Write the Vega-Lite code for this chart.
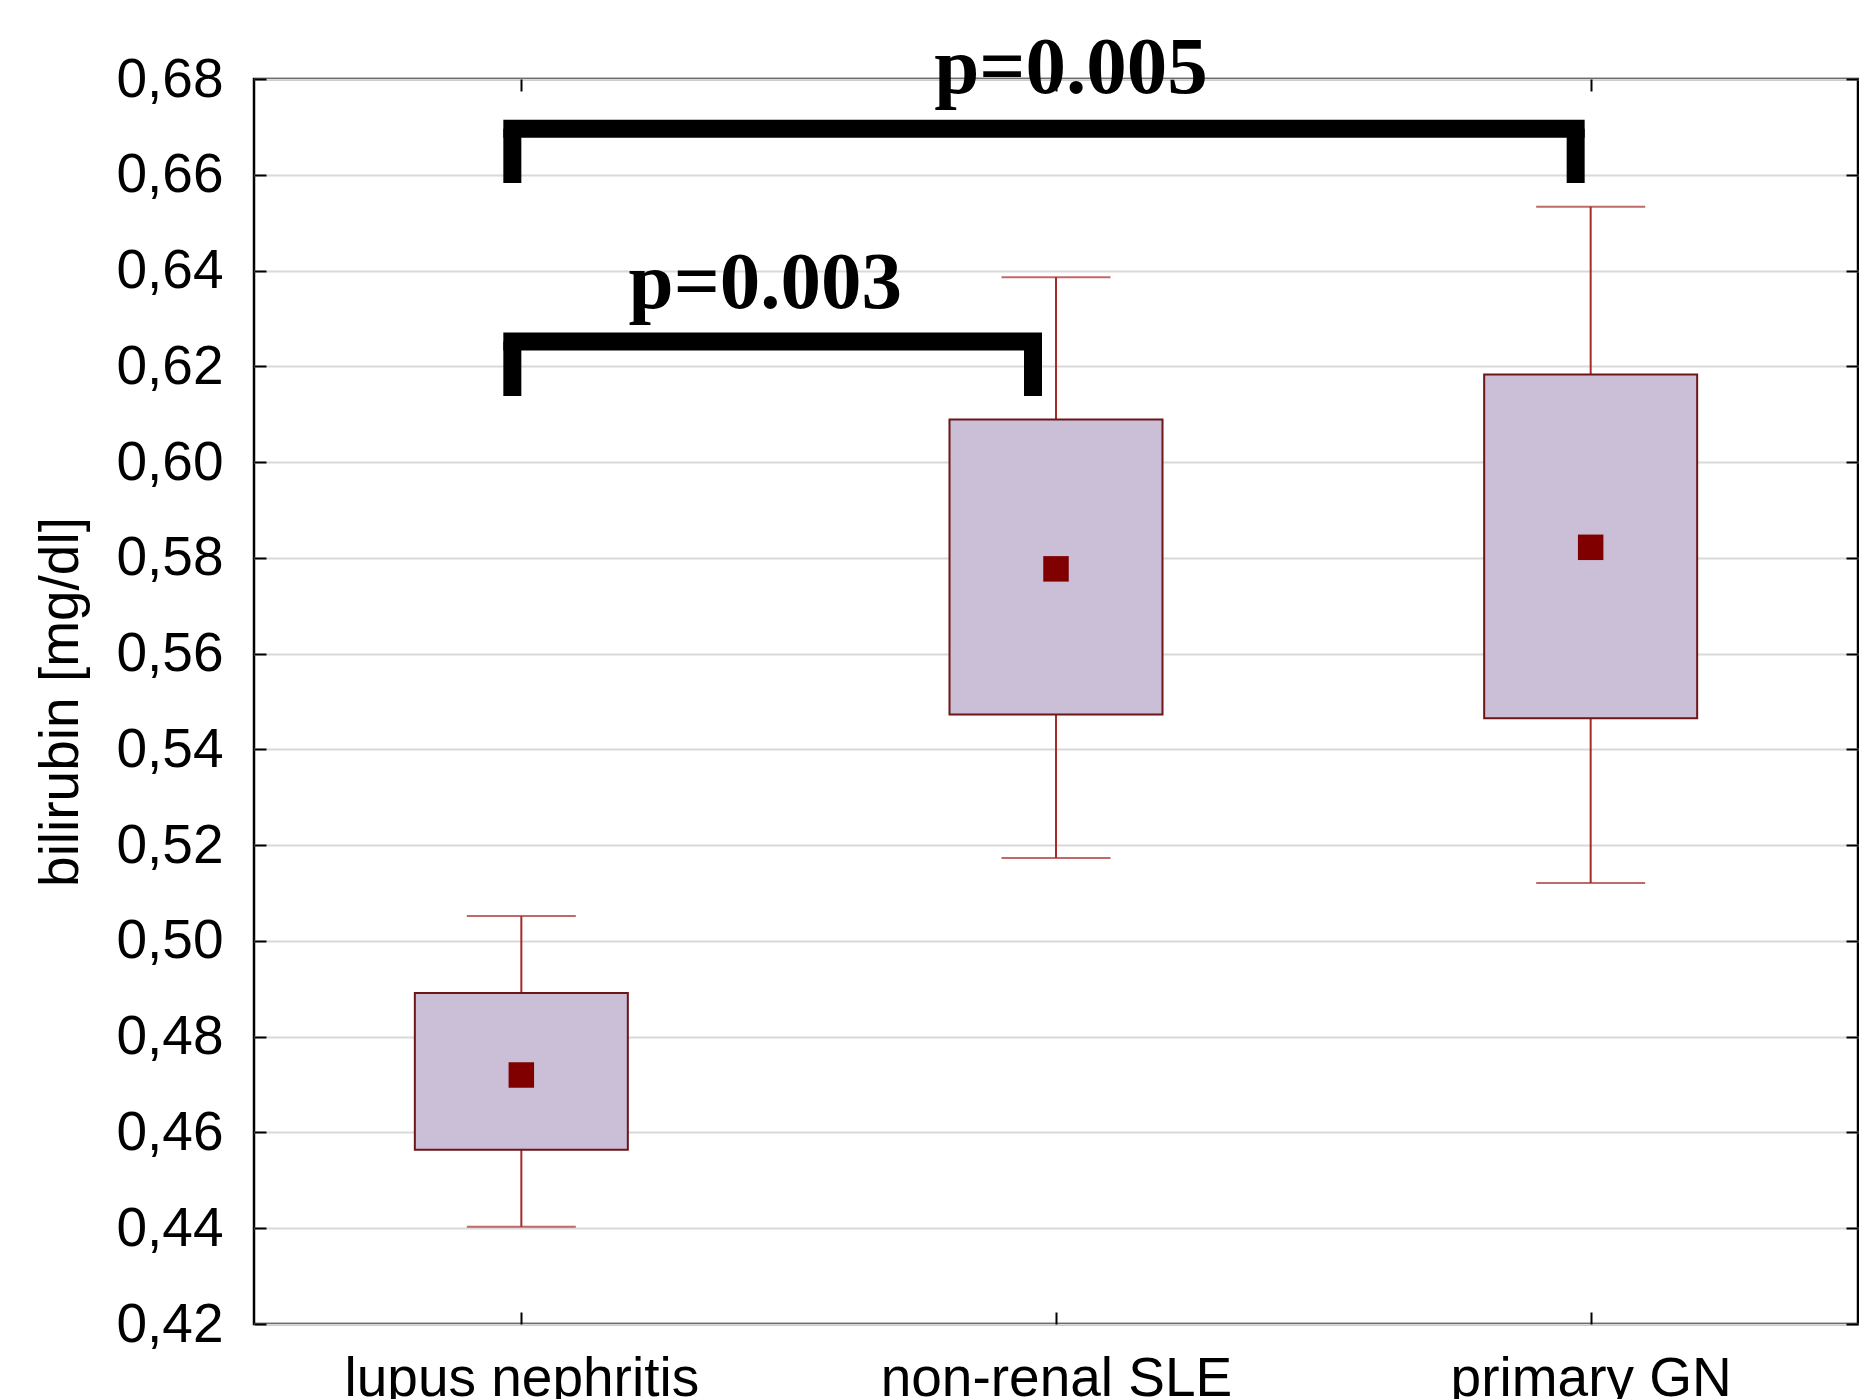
{
  "$schema": "https://vega.github.io/schema/vega-lite/v6.json",
  "width": 1604,
  "height": 1245,
  "autosize": {"type": "none"},
  "padding": {"left": 254, "top": 79, "right": 1, "bottom": 75},
  "background": "white",
  "config": {
    "view": {"stroke": "black", "strokeWidth": 2.5},
    "axis": {"labelFont": "Liberation Sans", "titleFont": "Liberation Sans", "domain": false, "labelColor": "black", "tickColor": "black", "titleColor": "black"}
  },
  "datasets": {
    "boxes": [
      {"group": "lupus nephritis", "wlow": 0.4403, "qlow": 0.4564, "mean": 0.472, "qhigh": 0.4891, "whigh": 0.5052},
      {"group": "non-renal SLE", "wlow": 0.5173, "qlow": 0.5473, "mean": 0.5777, "qhigh": 0.6089, "whigh": 0.6386},
      {"group": "primary GN", "wlow": 0.5121, "qlow": 0.5465, "mean": 0.5822, "qhigh": 0.6183, "whigh": 0.6533}
    ],
    "brackets": [
      {"from": "lupus nephritis", "to": "primary GN", "y": 0.6696, "yEnd": 0.6583, "label": "p=0.005", "ytext": 0.6771},
      {"from": "lupus nephritis", "to": "non-renal SLE", "y": 0.6252, "yEnd": 0.6138, "label": "p=0.003", "ytext": 0.6322}
    ]
  },
  "resolve": {"axis": {"x": "independent", "y": "independent"}},
  "layer": [
    {
      "data": {"name": "boxes"},
      "mark": {"type": "rule", "color": "#A52A2A", "strokeWidth": 2},
      "encoding": {
        "x": {"field": "group", "type": "nominal", "sort": null,
              "scale": {"type": "point", "padding": 0.5},
              "axis": {"orient": "bottom", "title": null, "labelFontSize": 55, "labelAngle": 0, "labelLimit": 0, "labelPadding": 28, "ticks": false, "grid": false}},
        "y": {"field": "wlow", "type": "quantitative",
              "scale": {"domain": [0.42, 0.68], "nice": false, "zero": false},
              "axis": {"orient": "left", "title": "bilirubin [mg/dl]", "titleFontSize": 55, "titleFontWeight": "normal", "titlePadding": 26,
                       "values": [0.42, 0.44, 0.46, 0.48, 0.5, 0.52, 0.54, 0.56, 0.58, 0.6, 0.62, 0.64, 0.66, 0.68],
                       "labelExpr": "replace(format(datum.value, '.2f'), '.', ',')",
                       "labelFontSize": 55, "labelPadding": 31, "ticks": false,
                       "grid": true, "gridColor": "#d9d9d9", "gridWidth": 2}},
        "y2": {"field": "whigh"}
      }
    },
    {
      "data": {"name": "boxes"},
      "transform": [{"fold": ["wlow", "whigh"], "as": ["kind", "value"]}],
      "mark": {"type": "tick", "color": "#A52A2A", "size": 109, "thickness": 2},
      "encoding": {
        "x": {"field": "group", "type": "nominal", "sort": null,
              "axis": {"orient": "top", "title": null, "labels": false, "offset": -12, "tickSize": 12, "tickWidth": 2, "grid": false}},
        "y": {"field": "value", "type": "quantitative",
              "axis": {"orient": "right", "title": null, "labels": false, "offset": -12, "tickSize": 12, "tickWidth": 2, "grid": false,
                       "values": [0.42, 0.44, 0.46, 0.48, 0.5, 0.52, 0.54, 0.56, 0.58, 0.6, 0.62, 0.64, 0.66, 0.68]}}
      }
    },
    {
      "data": {"name": "boxes"},
      "mark": {"type": "bar", "size": 213, "fill": "#CBBFD7", "stroke": "#6E1518", "strokeWidth": 2},
      "encoding": {
        "x": {"field": "group", "type": "nominal", "sort": null,
              "axis": {"orient": "bottom", "title": null, "labels": false, "offset": -12, "tickSize": 12, "tickWidth": 2, "grid": false}},
        "y": {"field": "qlow", "type": "quantitative",
              "axis": {"orient": "left", "title": null, "labels": false, "offset": -12, "tickSize": 12, "tickWidth": 2, "grid": false,
                       "values": [0.42, 0.44, 0.46, 0.48, 0.5, 0.52, 0.54, 0.56, 0.58, 0.6, 0.62, 0.64, 0.66, 0.68]}},
        "y2": {"field": "qhigh"}
      }
    },
    {
      "data": {"name": "boxes"},
      "mark": {"type": "square", "size": 650, "filled": true, "color": "#800000", "opacity": 1},
      "encoding": {
        "x": {"field": "group", "type": "nominal", "sort": null, "axis": null},
        "y": {"field": "mean", "type": "quantitative", "axis": null}
      }
    },
    {
      "data": {"name": "brackets"},
      "mark": {"type": "rule", "color": "black", "strokeWidth": 18, "strokeCap": "butt", "xOffset": -9},
      "encoding": {
        "x": {"field": "from", "type": "nominal", "axis": null},
        "y": {"field": "y", "type": "quantitative", "axis": null},
        "y2": {"field": "yEnd"}
      }
    },
    {
      "data": {"name": "brackets"},
      "transform": [{"filter": "datum.label == 'p=0.005'"}],
      "layer": [
        {
          "mark": {"type": "rule", "color": "black", "strokeWidth": 18, "strokeCap": "butt", "xOffset": -15},
          "encoding": {
            "x": {"field": "to", "type": "nominal", "axis": null},
            "y": {"field": "y", "type": "quantitative", "axis": null},
            "y2": {"field": "yEnd"}
          }
        },
        {
          "mark": {"type": "rule", "color": "black", "strokeWidth": 18, "strokeCap": "square", "xOffset": -9, "x2Offset": -15},
          "encoding": {
            "x": {"field": "from", "type": "nominal", "axis": null},
            "x2": {"field": "to"},
            "y": {"field": "y", "type": "quantitative", "axis": null}
          }
        },
        {
          "mark": {"type": "text", "font": "Liberation Serif", "fontWeight": "bold", "fontSize": 81, "color": "black", "baseline": "alphabetic", "align": "center", "dx": 15},
          "encoding": {
            "x": {"datum": "non-renal SLE", "type": "nominal", "axis": null},
            "y": {"field": "ytext", "type": "quantitative", "axis": null},
            "text": {"field": "label"}
          }
        }
      ]
    },
    {
      "data": {"name": "brackets"},
      "transform": [{"filter": "datum.label == 'p=0.003'"}],
      "layer": [
        {
          "mark": {"type": "rule", "color": "black", "strokeWidth": 18, "strokeCap": "butt", "xOffset": -23},
          "encoding": {
            "x": {"field": "to", "type": "nominal", "axis": null},
            "y": {"field": "y", "type": "quantitative", "axis": null},
            "y2": {"field": "yEnd"}
          }
        },
        {
          "mark": {"type": "rule", "color": "black", "strokeWidth": 18, "strokeCap": "square", "xOffset": -9, "x2Offset": -23},
          "encoding": {
            "x": {"field": "from", "type": "nominal", "axis": null},
            "x2": {"field": "to"},
            "y": {"field": "y", "type": "quantitative", "axis": null}
          }
        },
        {
          "mark": {"type": "text", "font": "Liberation Serif", "fontWeight": "bold", "fontSize": 81, "color": "black", "baseline": "alphabetic", "align": "center", "dx": 244},
          "encoding": {
            "x": {"datum": "lupus nephritis", "type": "nominal", "axis": null},
            "y": {"field": "ytext", "type": "quantitative", "axis": null},
            "text": {"field": "label"}
          }
        }
      ]
    }
  ]
}
